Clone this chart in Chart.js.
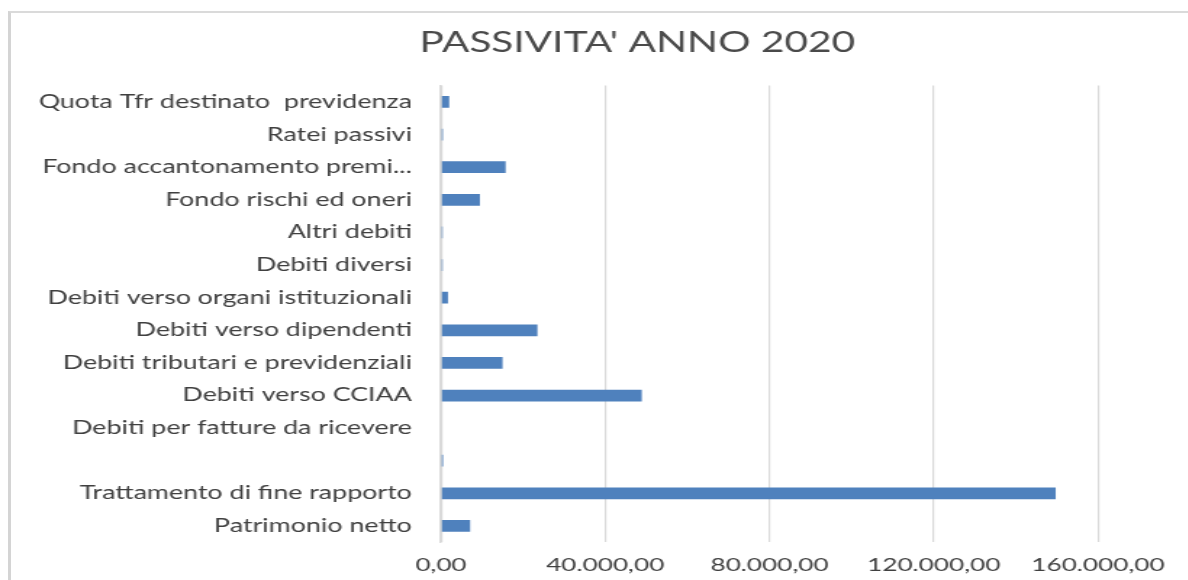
<!DOCTYPE html>
<html>
<head>
<meta charset="utf-8">
<script src="https://cdn.jsdelivr.net/npm/chart.js@4"></script>
<style>
  html, body { margin: 0; padding: 0; background: #ffffff; overflow: hidden; width: 1188px; height: 580px; }
  #frame { position: absolute; left: 8px; top: 11px; width: 1400px; height: 800px;
           border-left: 3px solid #d4d4d4; border-top: 2px solid #dadada; box-sizing: border-box; }
  #wrap { position: absolute; left: 0; top: 0; transform: scaleX(1.45); transform-origin: 0 0; }
</style>
</head>
<body>
<div id="frame"></div>
<div id="wrap"><canvas id="c" width="879" height="580"></canvas></div>
<script>
const categories = [
  "Quota Tfr destinato  previdenza",
  "Ratei passivi",
  "Fondo accantonamento premi...",
  "Fondo rischi ed oneri",
  "Altri debiti",
  "Debiti diversi",
  "Debiti verso organi istituzionali",
  "Debiti verso dipendenti",
  "Debiti tributari e previdenziali",
  "Debiti verso CCIAA",
  "Debiti per fatture da ricevere",
  "",
  "Trattamento di fine rapporto",
  "Patrimonio netto"
];
const passivita2020 = [2000, 450, 15750, 9500, 400, 400, 1700, 23500, 15000, 48900, 0, 500, 149700, 7100];
const xTickValues = [0, 40000, 80000, 120000, 160000];
const xTickLabels = ["0,00", "40.000,00", "80.000,00", "120.000,00", "160.000,00"];
const chartTitle = "PASSIVITA' ANNO 2020";

const FONT = "Lato, 'Open Sans', sans-serif";

new Chart(document.getElementById('c'), {
  type: 'bar',
  data: {
    labels: categories,
    datasets: [{
      data: passivita2020,
      backgroundColor: '#4f81bd',
      borderColor: '#4f81bd',
      borderWidth: 0,
      barPercentage: 0.36,
      categoryPercentage: 1.0
    }]
  },
  options: {
    indexAxis: 'y',
    responsive: false,
    animation: false,
    devicePixelRatio: 1,
    layout: { padding: 0 },
    plugins: {
      legend: { display: false },
      tooltip: { enabled: false },
      title: {
        display: true,
        text: chartTitle,
        color: '#4a4a4a',
        font: { family: FONT, size: 28, weight: 'normal' },
        padding: { top: 26, bottom: 26 }
      }
    },
    scales: {
      x: {
        min: 0, max: 160000,
        afterBuildTicks: (s) => { s.ticks = xTickValues.map(v => ({ value: v })); },
        afterFit: (s) => { s.height = 37.7; },
        ticks: {
          color: '#404040',
          font: { family: FONT, size: 18 },
          padding: 12,
          maxRotation: 0,
          callback: (v) => { const i = xTickValues.indexOf(v); return i >= 0 ? xTickLabels[i] : ''; }
        },
        grid: { color: '#d9d9d9', lineWidth: 1.2, drawTicks: false },
        border: { display: false }
      },
      y: {
        afterFit: (s) => { s.width = 304.1; },
        ticks: {
          color: '#404040',
          font: { family: FONT, size: 18.5 },
          padding: 20,
          autoSkip: false
        },
        grid: { display: false, drawTicks: false },
        border: { display: true, color: '#d9d9d9', width: 1.5 }
      },
      spacer: {
        type: 'category',
        axis: 'y',
        position: 'right',
        afterFit: (s) => { s.width = 121.8; },
        ticks: { display: false },
        grid: { display: false, drawTicks: false },
        border: { display: false }
      }
    }
  }
});
</script>
</body>
</html>
